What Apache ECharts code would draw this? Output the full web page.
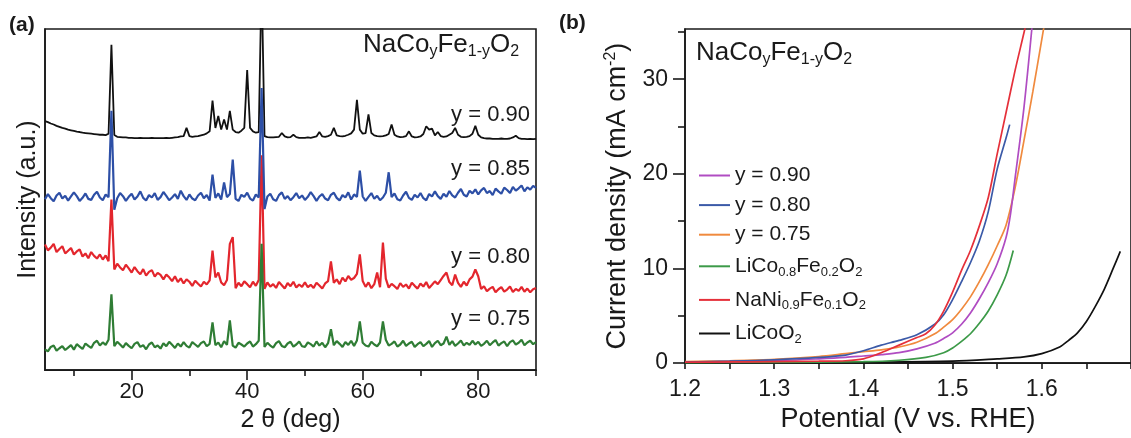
<!DOCTYPE html>
<html>
<head>
<meta charset="utf-8">
<script src="https://cdn.jsdelivr.net/npm/echarts@6/dist/echarts.min.js"></script>
<style>
  html, body { margin: 0; padding: 0; background: #fff; }
  #chart { width: 1131px; height: 438px; }
</style>
</head>
<body>
<div id="chart"></div>
<script>
// ---------- (a) XRD patterns, intensity (a.u.) sampled every 0.5 deg from 5 to 90 deg ----------
const TWO_THETA_START = 5;
const TWO_THETA_STEP = 0.5;

const xrdY090 = [
  73.0, 72.7, 72.3, 72.0, 71.6, 71.3, 71.0, 70.8, 70.5, 70.3,
  70.1, 69.9, 69.8, 69.6, 69.5, 69.4, 69.3, 69.2, 69.1, 69.0,
  69.0, 68.9, 69.3, 95.4, 68.9, 68.4, 68.3, 68.2, 68.2, 68.1,
  68.1, 68.0, 68.0, 68.1, 68.0, 68.0, 68.0, 68.1, 68.0, 68.0,
  68.0, 68.0, 68.1, 68.0, 68.1, 68.2, 68.3, 68.5, 68.6, 71.0,
  68.6, 68.4, 68.5, 68.6, 68.8, 69.0, 69.4, 70.0, 79.0, 71.0,
  74.5, 70.5, 73.5, 70.5, 76.0, 70.5, 69.8, 69.6, 70.2, 71.0,
  88.0, 71.0, 70.0, 69.6, 69.8, 115.0, 68.6, 68.3, 68.2, 68.2,
  68.3, 68.4, 69.5, 68.5, 68.2, 68.3, 69.0, 68.3, 68.1, 68.1,
  68.1, 68.2, 68.1, 68.3, 68.5, 69.8, 68.5, 68.4, 68.6, 69.0,
  71.0, 68.8, 68.6, 68.5, 68.7, 69.0, 69.4, 70.5, 79.2, 70.5,
  69.3, 69.5, 75.0, 69.5, 68.8, 68.6, 68.5, 68.6, 68.8, 69.2,
  72.0, 69.0, 68.5, 68.3, 68.4, 68.6, 70.0, 68.5, 68.2, 68.3,
  68.5, 69.2, 71.5, 70.5, 70.8, 68.8, 69.8, 68.6, 68.4, 68.5,
  69.0, 69.5, 71.0, 69.0, 68.4, 68.3, 68.4, 68.6, 69.3, 71.6,
  69.0, 68.2, 68.0, 67.9, 67.9, 67.8, 67.8, 67.8, 67.9, 67.8,
  67.8, 67.9, 68.2, 68.7, 68.0, 67.8, 67.8, 67.7, 67.8, 67.7,
  67.8
];

const xrdY085 = [
  50.1, 51.6, 50.4, 49.5, 51.2, 52.0, 50.3, 51.1, 49.7, 50.9,
  52.1, 51.0, 49.6, 50.5, 51.8, 50.2, 49.9, 51.4, 52.3, 50.6,
  49.8, 51.5, 50.7, 76.0, 47.0, 50.4, 51.9, 51.0, 49.6, 50.8,
  51.7, 50.0, 50.9, 52.4, 50.5, 49.7, 51.3, 50.6, 51.9, 49.9,
  50.7, 52.2, 51.1, 49.8, 50.6, 51.6, 50.2, 52.6, 51.0, 49.9,
  51.5, 50.3, 49.8, 51.2, 52.0, 50.4, 51.3, 49.7, 57.3, 50.5,
  51.8, 50.0, 55.0, 50.7, 51.6, 61.7, 50.2, 49.6, 51.4, 50.8,
  52.0, 50.3, 49.7, 51.5, 50.6, 82.7, 47.2, 50.9, 51.7, 50.1,
  49.6, 51.3, 52.1, 50.2, 51.0, 49.8, 50.7, 51.9, 50.4, 51.2,
  49.9, 50.8, 52.2, 51.0, 49.6, 50.9, 51.6, 50.3, 49.8, 51.4,
  52.0, 50.5, 49.7, 51.3, 50.6, 52.1, 50.0, 51.5, 50.8, 58.5,
  50.9, 49.6, 50.8, 51.9, 50.2, 51.1, 49.8, 50.6, 52.0, 58.0,
  50.7, 51.8, 50.1, 49.7, 51.2, 52.3, 50.5, 49.9, 51.4, 50.6,
  51.9, 50.4, 49.8, 51.6, 50.9, 52.4, 51.0, 50.2, 51.7, 50.8,
  52.5, 51.2, 50.6, 52.0, 53.1, 51.4, 50.9, 52.6, 51.8, 53.0,
  51.5, 52.7, 53.4, 51.9, 52.5, 51.3, 53.2, 52.4, 51.7, 53.5,
  52.8, 51.9, 53.7, 52.6, 53.3, 54.1, 52.4, 53.6, 52.9, 54.0,
  53.4
];

const xrdY080 = [
  36.8, 35.1, 35.9, 37.0, 34.6, 35.5, 36.3, 34.2, 35.0, 35.8,
  33.9, 34.8, 35.4, 33.3, 34.2, 32.8, 34.6, 33.5, 32.7, 33.9,
  32.4, 33.6, 31.9, 50.0, 29.5, 31.2, 30.1, 29.3, 30.9, 29.8,
  28.6, 30.2, 29.0, 28.1, 29.6, 27.7, 28.8, 29.3, 27.4, 28.5,
  27.9, 26.6, 28.0, 27.2, 26.1, 27.5, 25.8, 26.9, 25.4, 26.6,
  25.9, 24.7, 26.2, 25.3, 24.5, 25.9, 25.1, 26.3, 35.0, 27.2,
  28.6, 25.7, 24.9, 26.4, 37.0, 39.0, 24.0, 25.6, 24.6, 26.0,
  25.2, 24.3, 25.9, 24.7, 26.4, 63.0, 23.8, 25.7, 24.5, 25.2,
  24.1, 25.8, 24.9, 23.9, 25.5, 24.6, 25.9, 24.2, 25.1, 24.4,
  25.7, 24.3, 25.0, 24.1, 25.6, 24.8, 23.9, 25.4, 26.1, 31.9,
  25.6, 26.6, 25.2, 27.1, 26.0, 27.6, 26.5, 27.0, 28.2, 33.9,
  26.1, 24.4, 25.7, 24.0, 25.2, 28.6, 24.3, 37.4, 26.8, 24.2,
  25.3, 24.6, 23.8, 25.5, 24.4, 25.1, 23.9, 25.6, 24.7, 23.9,
  25.4, 24.5, 25.8, 24.1, 25.0, 26.0, 25.2, 26.4, 27.6, 28.6,
  25.8, 24.9, 28.0, 25.6, 24.4, 25.9, 24.8, 26.6, 27.4, 29.5,
  27.5, 23.8, 24.6, 23.1, 23.9, 24.4, 22.8, 23.7, 24.3, 23.0,
  23.6, 24.5, 22.9, 23.8, 23.2, 24.4, 23.0, 23.9, 22.8, 23.7,
  24.1
];

const xrdY075 = [
  6.1, 5.5, 6.8, 7.2, 5.7, 6.4, 7.0, 5.9, 6.6, 7.3,
  6.0, 7.6, 6.9, 6.2, 7.8, 7.1, 6.5, 8.0, 8.6, 7.2,
  8.1, 7.4, 8.9, 22.2, 7.0, 8.3, 7.5, 6.6, 7.9, 7.1,
  6.4, 7.7, 8.2, 6.8, 7.3, 6.1, 7.5, 8.1, 6.7, 7.2,
  6.3, 7.9, 7.0, 8.3, 7.4, 6.5, 7.8, 6.9, 8.2, 7.1,
  6.6, 8.2, 7.5, 6.8, 7.9, 8.4, 7.0, 7.7, 14.0, 7.3,
  8.1, 6.7, 8.5, 7.4, 14.6, 7.2, 6.6, 8.0, 7.5, 6.9,
  7.8, 8.4, 6.9, 7.6, 8.6, 37.0, 6.8, 8.0, 7.2, 6.6,
  7.9, 8.5, 7.1, 6.7, 7.8, 8.3, 6.9, 7.5, 8.4, 7.0,
  6.8, 8.1, 7.6, 6.9, 8.4, 7.2, 8.0, 6.7, 7.9, 12.0,
  7.3, 8.5, 7.7, 6.8, 8.2, 7.4, 8.6, 7.1, 8.7, 14.3,
  8.0, 7.2, 6.9, 8.3, 7.5, 7.0, 8.1, 14.3, 8.9, 7.2,
  7.7, 8.4, 6.9, 7.5, 8.6, 7.1, 7.8, 8.3, 6.8, 7.6,
  8.2, 7.0, 7.7, 8.5, 6.8, 7.9, 8.6, 7.3, 7.8, 9.8,
  7.4, 8.5, 7.1, 7.8, 8.7, 7.2, 8.0, 7.4, 8.6, 7.5,
  8.3, 7.1, 7.7, 8.6, 7.3, 8.1, 8.8, 7.2, 7.9, 8.4,
  7.0, 8.2, 8.7, 7.5, 8.0, 8.9, 7.3, 8.1, 8.6, 7.6,
  8.2
];

const xrdTickLabels = [20, 40, 60, 80];
const xrdMinorTicks = [10, 30, 50, 70, 90];

// ---------- (b) polarization curves: [potential V vs. RHE, current density mA cm^-2] ----------
const lsvY090 = [
  [1.20, 0.10], [1.25, 0.15], [1.30, 0.25], [1.35, 0.45], [1.38, 0.60], [1.40, 0.75],
  [1.42, 0.90], [1.44, 1.10], [1.46, 1.50], [1.48, 2.10], [1.49, 2.60], [1.50, 3.20],
  [1.51, 4.10], [1.52, 5.30], [1.53, 6.80], [1.54, 8.50], [1.55, 10.5], [1.56, 13.3],
  [1.565, 15.8], [1.57, 19.5], [1.58, 27.0], [1.59, 36.5]
];
const lsvY080 = [
  [1.20, 0.10], [1.25, 0.20], [1.30, 0.35], [1.35, 0.60], [1.38, 0.85], [1.40, 1.30],
  [1.42, 1.90], [1.44, 2.40], [1.46, 3.00], [1.48, 4.10], [1.49, 5.10], [1.50, 6.70],
  [1.51, 8.60], [1.52, 10.6], [1.53, 12.9], [1.54, 16.0], [1.55, 20.5], [1.56, 23.8],
  [1.564, 25.2]
];
const lsvY075 = [
  [1.20, 0.15], [1.25, 0.25], [1.30, 0.40], [1.35, 0.70], [1.38, 1.00], [1.40, 1.20],
  [1.42, 1.40], [1.44, 1.70], [1.46, 2.20], [1.48, 3.10], [1.49, 3.80], [1.50, 4.60],
  [1.51, 5.70], [1.52, 7.00], [1.53, 8.60], [1.54, 10.4], [1.55, 12.4], [1.56, 14.6],
  [1.57, 18.5], [1.58, 23.5], [1.59, 28.7], [1.60, 34.2], [1.605, 37.0]
];
const lsvLiCoFe = [
  [1.20, 0.05], [1.30, 0.08], [1.40, 0.15], [1.44, 0.30], [1.47, 0.60], [1.49, 1.10],
  [1.50, 1.60], [1.51, 2.30], [1.52, 3.10], [1.53, 4.20], [1.54, 5.50], [1.55, 7.20],
  [1.56, 9.30], [1.568, 11.9]
];
const lsvNaNiFe = [
  [1.20, 0.10], [1.25, 0.12], [1.30, 0.15], [1.35, 0.20], [1.38, 0.25], [1.40, 0.45],
  [1.42, 1.10], [1.44, 1.90], [1.46, 2.70], [1.47, 3.10], [1.48, 4.00], [1.49, 5.50],
  [1.50, 7.50], [1.51, 9.80], [1.52, 11.9], [1.53, 14.5], [1.54, 17.5], [1.55, 22.1],
  [1.56, 26.5], [1.57, 30.9], [1.58, 34.9], [1.59, 39.0]
];
const lsvLiCoO2 = [
  [1.20, 0.05], [1.30, 0.05], [1.40, 0.10], [1.50, 0.20], [1.55, 0.45], [1.58, 0.65],
  [1.60, 1.00], [1.62, 1.70], [1.63, 2.40], [1.64, 3.20], [1.65, 4.40], [1.66, 6.00],
  [1.67, 7.80], [1.68, 10.0], [1.688, 11.8]
];

const lsvNames = ['y = 0.90', 'y = 0.80', 'y = 0.75', 'LiCo0.8Fe0.2O2', 'NaNi0.9Fe0.1O2', 'LiCoO2'];
const lsvLegendText = {
  'y = 0.90': '{n|y = 0.90}',
  'y = 0.80': '{n|y = 0.80}',
  'y = 0.75': '{n|y = 0.75}',
  'LiCo0.8Fe0.2O2': '{n|LiCo}{s|0.8}{n|Fe}{s|0.2}{n|O}{s|2}',
  'NaNi0.9Fe0.1O2': '{n|NaNi}{s|0.9}{n|Fe}{s|0.1}{n|O}{s|2}',
  'LiCoO2': '{n|LiCoO}{s|2}'
};
const potentialLabels = [1.2, 1.3, 1.4, 1.5, 1.6];
const potentialTicks = [1.2, 1.25, 1.3, 1.35, 1.4, 1.45, 1.5, 1.55, 1.6, 1.65, 1.7];
const currentLabels = [0, 10, 20, 30];
const currentMinorTicks = [5, 15, 25, 35];

// ---------- drawing ----------
const FONT = 'Liberation Sans, Arial, sans-serif';
const INK = '#1a1a1a';
const COLORS = {
  xrd: ['#111111', '#2d4fa6', '#e3262d', '#2f7d35'],
  lsv: ['#b04cc2', '#3b5aa8', '#f08a3e', '#3c9a48', '#e5303a', '#111111']
};

const toPairs = arr => arr.map((v, i) => [TWO_THETA_START + i * TWO_THETA_STEP, v]);

const formulaRich = {
  n: { fontFamily: FONT, fontSize: 26, fontWeight: 'normal', color: INK, lineHeight: 30 },
  s: { fontFamily: FONT, fontSize: 16, fontWeight: 'normal', color: INK, lineHeight: 30, padding: [14, 0, 0, 0] }
};
const FORMULA = '{n|NaCo}{s|y}{n|Fe}{s|1-y}{n|O}{s|2}';

const sampleLabel = (text, top) => ({
  text, right: 601, top, padding: 0,
  textStyle: { fontFamily: FONT, fontSize: 22, fontWeight: 'normal', color: INK }
});

const axisLine = { show: true, lineStyle: { color: INK, width: 1.6 } };

const chart = echarts.init(document.getElementById('chart'), null, { renderer: 'canvas' });

const xrdSeries = [
  ['XRD y = 0.90', xrdY090, COLORS.xrd[0], 1.8],
  ['XRD y = 0.80', xrdY080, COLORS.xrd[2], 2.2],
  ['XRD y = 0.75', xrdY075, COLORS.xrd[3], 2.2],
  ['XRD y = 0.85', xrdY085, COLORS.xrd[1], 2.2]
].map(([name, arr, color, width]) => ({
  name, type: 'line', xAxisIndex: 0, yAxisIndex: 0,
  data: toPairs(arr), showSymbol: false, symbol: 'none',
  lineStyle: { color, width }, itemStyle: { color },
  clip: true, silent: true
}));

const lsvData = [lsvY090, lsvY080, lsvY075, lsvLiCoFe, lsvNaNiFe, lsvLiCoO2];
const lsvDrawOrder = [5, 3, 2, 0, 1, 4];
const lsvSeries = lsvDrawOrder.map(k => ({
  name: lsvNames[k], type: 'line', xAxisIndex: 2, yAxisIndex: 1,
  data: lsvData[k], smooth: 0.3, showSymbol: false, symbol: 'none',
  lineStyle: { color: COLORS.lsv[k], width: 1.7 }, itemStyle: { color: COLORS.lsv[k] },
  clip: true, silent: true
}));

chart.setOption({
  animation: false,
  backgroundColor: '#ffffff',
  title: [
    { text: '(a)', left: 9, top: 15, padding: 0,
      textStyle: { fontFamily: FONT, fontSize: 21, fontWeight: 'bold', color: INK } },
    { text: '(b)', left: 559, top: 13, padding: 0,
      textStyle: { fontFamily: FONT, fontSize: 21, fontWeight: 'bold', color: INK } },
    { text: FORMULA, left: 363, top: 30, padding: 0,
      textStyle: { fontWeight: 'normal', rich: formulaRich } },
    { text: FORMULA, left: 696, top: 38, padding: 0,
      textStyle: { fontWeight: 'normal', rich: formulaRich } },
    sampleLabel('y = 0.90', 104),
    sampleLabel('y = 0.85', 158),
    sampleLabel('y = 0.80', 246),
    sampleLabel('y = 0.75', 308)
  ],
  legend: {
    data: lsvNames.map(name => ({ name, icon: 'rect' })),
    orient: 'vertical',
    left: 694, top: 160,
    itemWidth: 31, itemHeight: 2, itemGap: 8.6,
    selectedMode: false,
    formatter: name => lsvLegendText[name],
    textStyle: {
      fontFamily: FONT, fontSize: 21, color: INK,
      rich: {
        n: { fontFamily: FONT, fontSize: 21, color: INK, lineHeight: 24 },
        s: { fontFamily: FONT, fontSize: 13, color: INK, lineHeight: 24, padding: [12, 0, 0, 0] }
      }
    }
  },
  grid: [
    { left: 45, top: 29, width: 491, height: 342, show: true,
      borderColor: INK, borderWidth: 1.6, backgroundColor: 'transparent' },
    { left: 685, top: 29, width: 454, height: 341, show: true,
      borderColor: INK, borderWidth: 1.6, backgroundColor: 'transparent' }
  ],
  xAxis: [
    { type: 'value', gridIndex: 0, position: 'bottom', min: 5, max: 90,
      name: '2 θ (deg)', nameLocation: 'middle', nameGap: 36,
      nameTextStyle: { fontFamily: FONT, fontSize: 25, color: INK },
      axisLine,
      axisTick: { show: true, inside: false, length: 10, customValues: xrdTickLabels,
        lineStyle: { color: INK, width: 1.6 } },
      axisLabel: { show: true, customValues: xrdTickLabels, margin: 11,
        fontFamily: FONT, fontSize: 22, color: INK },
      splitLine: { show: false } },
    { type: 'value', gridIndex: 0, position: 'bottom', min: 5, max: 90,
      axisLine: { show: false },
      axisTick: { show: true, inside: false, length: 6, customValues: xrdMinorTicks,
        lineStyle: { color: INK, width: 1.6 } },
      axisLabel: { show: false }, splitLine: { show: false } },
    { type: 'value', gridIndex: 1, position: 'bottom', min: 1.2, max: 1.7,
      name: 'Potential (V vs. RHE)', nameLocation: 'middle', nameGap: 41,
      nameTextStyle: { fontFamily: FONT, fontSize: 27, color: INK },
      axisLine,
      axisTick: { show: true, inside: false, length: 6, customValues: potentialTicks,
        lineStyle: { color: INK, width: 1.6 } },
      axisLabel: { show: true, customValues: potentialLabels, margin: 15,
        fontFamily: FONT, fontSize: 23, color: INK,
        formatter: v => v.toFixed(1) },
      splitLine: { show: false } }
  ],
  yAxis: [
    { type: 'value', gridIndex: 0, position: 'left', min: 0, max: 100,
      name: 'Intensity (a.u.)', nameLocation: 'middle', nameGap: 4,
      nameTextStyle: { fontFamily: FONT, fontSize: 25, color: INK },
      axisLine, axisTick: { show: false }, axisLabel: { show: false },
      splitLine: { show: false } },
    { type: 'value', gridIndex: 1, position: 'left', min: 0, max: 35.3,
      name: '{n|Current density (mA cm}{p|-2}{n|)}', nameLocation: 'middle', nameGap: 52,
      nameTextStyle: {
        fontFamily: FONT, fontSize: 27, color: INK,
        rich: {
          n: { fontFamily: FONT, fontSize: 27, color: INK },
          p: { fontFamily: FONT, fontSize: 16, color: INK, padding: [0, 0, 14, 0] }
        }
      },
      axisLine,
      axisTick: { show: true, inside: false, length: 12, customValues: currentLabels,
        lineStyle: { color: INK, width: 1.6 } },
      axisLabel: { show: true, customValues: currentLabels, margin: 17,
        fontFamily: FONT, fontSize: 23, color: INK },
      splitLine: { show: false } },
    { type: 'value', gridIndex: 1, position: 'left', min: 0, max: 35.3,
      axisLine: { show: false },
      axisTick: { show: true, inside: false, length: 7, customValues: currentMinorTicks,
        lineStyle: { color: INK, width: 1.6 } },
      axisLabel: { show: false }, splitLine: { show: false } }
  ],
  series: xrdSeries.concat(lsvSeries)
});
</script>
</body>
</html>
